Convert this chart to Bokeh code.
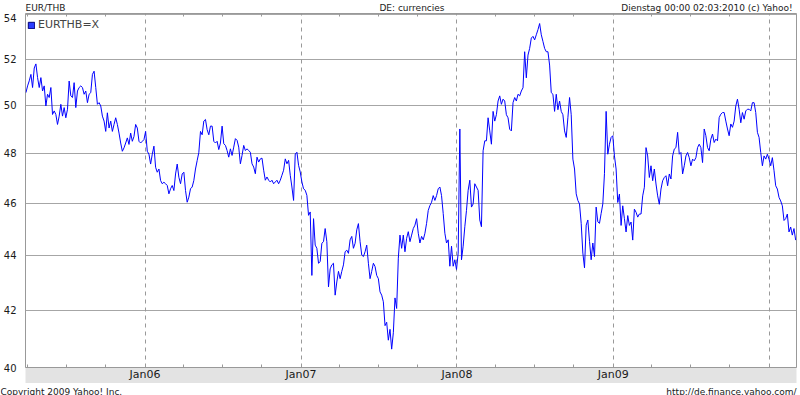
import pandas as pd
from bokeh.plotting import figure
from bokeh.layouts import column, row
from bokeh.models import (FixedTicker, DatetimeAxis, DatetimeTickFormatter, Label,
                          Legend, LegendItem, Range1d, PrintfTickFormatter, Grid,
                          ColumnDataSource)
from bokeh.embed import file_html
from bokeh.resources import INLINE

# ---------------- data ----------------
start_date = "2005-03-28"
end_date = "2010-03-04"
view_start = "2005-03-27"
view_end = "2010-03-06"

eurthb_2005 = [
    50.54, 50.83, 51.05, 51.33, 50.76, 51.61, 51.79, 51.19, 50.76, 51.19,
    50.61, 50.83, 49.97, 50.47, 50.33, 50.76, 49.61, 49.76, 49.61, 49.19,
    49.54, 50.04, 49.54, 49.9, 49.47, 49.83, 51.04, 50.4, 50.33, 50.97,
    49.9, 50.61, 50.76, 50.83, 50.76, 50.47, 50.61, 50.11, 50.47, 50.54,
    51.33, 51.47, 50.76, 50.04, 50.11, 49.97, 49.54, 49.33, 48.9, 49.68,
    49.04, 49.33, 48.9, 49.19, 49.47, 49.19, 48.83, 48.42, 48.08, 48.22,
    48.42, 48.63, 48.36, 48.83, 48.49, 48.69, 49.19, 49.04, 48.49, 48.42,
    48.49, 48.56, 48.9, 48.08, 47.96, 47.56, 47.96, 48.29, 47.43, 47.23,
    47.36, 46.9, 46.77, 46.83, 46.77, 46.7, 46.37, 46.57, 46.7, 46.5,
    47.16, 47.56, 47.03, 46.77, 47.16, 47.23, 46.5, 46.04, 46.24, 46.57,
    46.64, 46.9, 47.36, 47.7, 48.03, 48.9, 48.76, 49.33, 49.4, 48.97,
    48.76, 49.12, 49.12, 48.49, 48.42, 48.49, 48.15, 48.42, 49.12,
]
eurthb_2006 = [
    48.39, 48.32, 48.11, 47.84, 48.18, 47.91, 48.25, 48.6, 48.53, 48.25,
    47.57, 47.91, 48.32, 48.11, 48.18, 48.11, 48.04, 47.57, 47.44, 47.17,
    47.84, 47.64, 47.77, 47.8, 47.31, 46.91, 47.04, 46.91, 46.84, 46.91,
    46.77, 46.84, 46.91, 46.77, 46.91, 47.11, 47.31, 47.77, 47.57, 47.71,
    47.11, 46.64, 46.11, 47.97, 48.04, 47.51, 47.24, 46.84, 46.57, 46.51,
    46.31, 45.53, 45.66, 43.26, 45.4, 44.39, 44.27, 43.71, 43.77, 44.46,
    44.52, 45.02, 44.52, 42.84, 43.5, 43.65, 43.71, 42.54, 43.02, 43.41,
    43.14, 43.41, 43.65, 44.14, 44.2, 44.08, 44.59, 44.72, 44.27, 44.46,
    44.97, 45.21, 44.52, 44.02, 43.96, 44.14, 44.39, 43.71, 43.14, 43.41,
    43.71, 43.59, 43.26, 43.14, 42.66, 42.54, 42.3, 41.45, 41.57, 40.94,
    41.32, 40.63, 41.2, 42.44, 42.06, 43.9, 44.77, 44.27, 44.77, 44.14,
    44.65, 44.9, 44.52, 44.77, 45.02, 45.15, 45.4,
]
eurthb_2007 = [
    44.84, 44.47, 44.72, 44.59, 44.84, 45.22, 45.72, 45.91, 46.04, 46.3,
    46.11, 46.3, 46.57, 46.64, 46.3, 45.6, 44.84, 44.47, 44.59, 43.6,
    44.35, 43.6, 43.84, 43.48, 44.09, 49.0, 43.84, 44.35, 45.09, 45.72,
    46.51, 46.91, 45.85, 45.97, 46.77, 46.64, 46.51, 45.35, 45.09, 48.1,
    48.51, 48.51, 49.47, 48.92, 48.37, 49.74, 49.33, 49.6, 50.18, 50.4,
    50.04, 50.26, 50.18, 49.6, 49.47, 48.99, 48.92, 50.11, 50.33, 50.18,
    50.47, 50.4, 50.61, 50.75, 52.33, 51.18, 52.18, 52.48, 52.94, 53.02,
    52.86, 53.09, 53.32, 53.6, 53.09, 52.79, 52.48, 52.33, 52.33, 51.74,
    50.54, 50.47, 49.74, 50.47, 49.81, 50.18, 49.74, 49.6, 48.92, 48.65,
    49.47, 50.33, 49.6, 47.76, 47.36, 46.37, 46.11, 45.97, 45.22, 44.09,
    43.54, 45.15, 45.35, 44.53, 43.84, 44.47, 43.96, 45.85, 45.28, 45.22,
    45.6, 45.97, 47.17, 49.74, 47.96, 48.37, 48.65,
]
eurthb_2009 = [
    48.72, 47.89, 47.36, 46.03, 46.36, 45.14, 45.9, 45.4, 44.89, 45.52,
    45.14, 45.27, 44.58, 45.77, 45.65, 45.46, 45.58, 45.58, 46.29, 46.63,
    48.23, 47.89, 47.02, 47.49, 46.89, 47.36, 46.76, 46.29, 45.96, 46.56,
    46.89, 47.02, 47.09, 46.69, 47.16, 46.96, 47.89, 48.17, 48.23, 48.86,
    47.96, 48.03, 47.16, 47.49, 47.89, 48.03, 47.82, 47.49, 47.76, 47.69,
    47.82, 48.23, 48.37, 48.23, 47.62, 49.0, 48.72, 48.23, 48.1, 48.58,
    48.79, 48.44, 48.58, 48.51, 49.48, 49.62, 49.69, 49.69, 49.33, 49.0,
    48.72, 49.21, 49.07, 49.33, 49.97, 50.26, 49.83, 49.26, 49.69, 49.41,
    49.76, 49.83, 49.83, 49.76, 50.11, 50.11, 49.69, 48.86, 48.65, 48.03,
    47.49, 47.89, 47.76, 47.96, 47.76, 47.49, 47.82, 47.29, 46.69, 46.56,
    46.23, 46.09, 45.9, 45.33, 45.4, 45.58, 44.89, 45.08, 44.77, 45.02, 44.58,
]

year_ticks = ["2006-01-01", "2007-01-01", "2008-01-01", "2009-01-01", "2010-01-01"]
labelled_years = ["2006-01-01", "2007-01-01", "2008-01-01", "2009-01-01"]
quarter_ticks = ["2005-04-01", "2005-07-01", "2005-10-01",
                 "2006-04-01", "2006-07-01", "2006-10-01",
                 "2007-04-01", "2007-07-01", "2007-10-01",
                 "2008-04-01", "2008-07-01", "2008-10-01",
                 "2009-04-01", "2009-07-01", "2009-10-01"]
y_ticks = [40, 42, 44, 46, 48, 50, 52, 54]
y_min, y_max = 40.0, 54.06

series_name = "EURTHB=X"
header_left = "EUR/THB"
header_mid = "DE: currencies"
header_right = "Dienstag 00:00 02:03:2010 (c) Yahoo!"
footer_left = "Copyright 2009 Yahoo! Inc."
footer_right = "http://de.finance.yahoo.com/"

# ---------------- build ----------------
def ms(s):
    return pd.Timestamp(s).value / 1e6

values = eurthb_2005 + eurthb_2006 + eurthb_2007 + eurthb_2009
dates = pd.date_range(start_date, end_date, periods=len(values))
src = ColumnDataSource(dict(date=dates, rate=values))

FONT = "DejaVu Sans"
GRID = "#a6a6a6"
TXT = "#1a1a1a"


def strip(h):
    f = figure(width=800, height=h, x_range=Range1d(0, 800), y_range=Range1d(0, h),
               x_axis_type=None, y_axis_type=None, output_backend="svg",
               toolbar_location=None, min_border=0, min_border_left=0,
               min_border_right=0, min_border_top=0, min_border_bottom=0)
    f.outline_line_color = None
    f.grid.visible = False
    return f


def lab(x, y, t, align):
    return Label(x=x, y=y, text=t, text_font=FONT, text_font_size="9px",
                 text_align=align, text_baseline="middle", text_color=TXT)


# header strip
head = strip(13)
head.add_layout(lab(0, 6, header_left, "left"))
head.add_layout(lab(401, 6, header_mid, "center"))
head.add_layout(lab(796, 6, header_right, "right"))

# main chart
p = figure(width=800, height=370, x_axis_type=None, y_axis_type="log",
           x_range=Range1d(ms(view_start), ms(view_end)),
           y_range=Range1d(y_min, y_max),
           output_backend="svg", toolbar_location=None,
           min_border_left=23, min_border_right=4, min_border_top=0,
           min_border_bottom=15)
p.outline_line_color = "#999999"
p.background_fill_color = "white"
p.border_fill_color = "white"

yt = FixedTicker(ticks=y_ticks)
p.yaxis.ticker = yt
p.yaxis.formatter = PrintfTickFormatter(format="%d")
p.yaxis.major_tick_line_color = None
p.yaxis.minor_tick_line_color = None
p.yaxis.axis_line_color = None
p.yaxis.major_label_standoff = 3
p.yaxis.major_label_text_font = FONT
p.yaxis.major_label_text_font_size = "10px"
p.yaxis.major_label_text_color = TXT
p.ygrid.ticker = yt
p.ygrid.grid_line_color = GRID
p.ygrid.minor_grid_line_color = None

xb = DatetimeAxis(ticker=FixedTicker(ticks=[ms(t) for t in labelled_years],
                                     minor_ticks=[ms(t) for t in quarter_ticks]),
                  formatter=DatetimeTickFormatter(years="%b%y", months="%b%y",
                                                  days="%b%y", hours="%b%y"))
xb.major_tick_in = 0
xb.major_tick_out = 0
xb.minor_tick_in = 3
xb.minor_tick_out = 0
xb.minor_tick_line_color = "#999999"
xb.axis_line_color = "#999999"
xb.major_label_standoff = 0
xb.major_label_text_font = FONT
xb.major_label_text_font_size = "11px"
xb.major_label_text_color = TXT
try:
    xb.background_fill_color = "#e3e3e3"
except Exception:
    pass
p.add_layout(xb, "below")

xt = DatetimeAxis(ticker=FixedTicker(ticks=[], minor_ticks=[ms(t) for t in quarter_ticks]))
xt.major_tick_in = 0
xt.major_tick_out = 0
xt.minor_tick_in = 3
xt.minor_tick_out = 0
xt.minor_tick_line_color = "#999999"
xt.axis_line_color = None
p.add_layout(xt, "above")

vg = Grid(dimension=0, ticker=FixedTicker(ticks=[ms(t) for t in year_ticks]),
          grid_line_color="#999999", grid_line_dash="4 4")
p.add_layout(vg)

p.line("date", "rate", source=src, line_color="#0000ff", line_width=1)

# legend swatch (zero-size quad anchored on the first data point)
sw_src = ColumnDataSource(dict(l=[dates[0]], r=[dates[0]], t=[values[0]], b=[values[0]]))
sw = p.quad(left="l", right="r", top="t", bottom="b", source=sw_src,
            fill_color="#2a3cff", line_color="#00007a")
leg = Legend(items=[LegendItem(label=series_name, renderers=[sw])],
             location=(2, 336), border_line_color=None,
             background_fill_alpha=0, glyph_width=8, glyph_height=8,
             label_height=13, label_text_font=FONT, label_text_font_size="11px",
             margin=0, padding=2, label_standoff=3, spacing=0)
p.add_layout(leg)

# footer strip
foot = strip(12)
foot.add_layout(lab(0, 4, footer_left, "left"))
foot.add_layout(lab(796, 4, footer_right, "right"))

layout = column(head, p, row(foot), spacing=0)
open("out.html", "w").write(file_html(layout, INLINE))
